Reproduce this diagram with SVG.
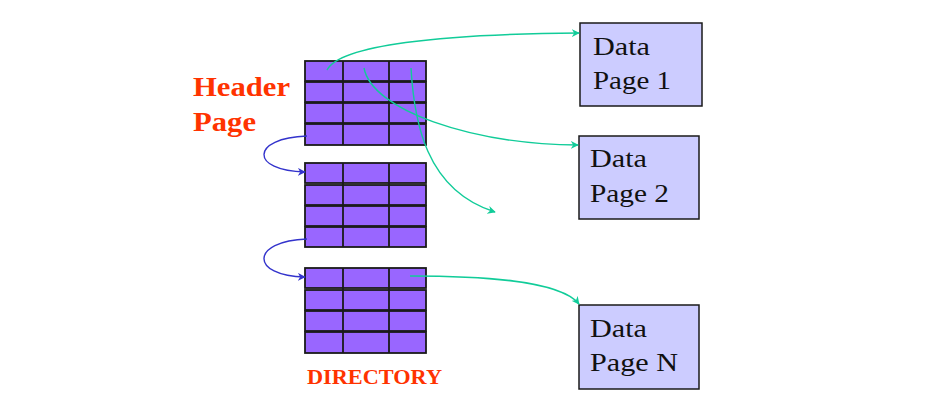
<svg xmlns="http://www.w3.org/2000/svg" width="932" height="411" viewBox="0 0 932 411">
<style>
.row{fill:#9966ff;stroke:#1a1a1a;stroke-width:1.8}
.col{stroke:#1a1a1a;stroke-width:1.8}
.box{fill:#ccccff;stroke:#1a1a1a;stroke-width:1.5}
.dt{font-family:"Liberation Serif",serif;font-size:26px;fill:#111}
.lbl{font-family:"Liberation Serif",serif;font-weight:bold;fill:#ff3300}
.g{fill:none;stroke:#11cc99;stroke-width:1.4}
.b{fill:none;stroke:#3333cc;stroke-width:1.4}
</style>
<defs>
<marker id="ag" viewBox="0 0 10 10" refX="9" refY="5" markerWidth="8" markerHeight="8" markerUnits="userSpaceOnUse" orient="auto"><path d="M0,0 L10,5 L0,10 L3,5 Z" fill="#11cc99"/></marker>
<marker id="ab" viewBox="0 0 10 10" refX="9" refY="5" markerWidth="8" markerHeight="8" markerUnits="userSpaceOnUse" orient="auto"><path d="M0,0 L10,5 L0,10 L3,5 Z" fill="#3333cc"/></marker>
</defs>
<rect width="932" height="411" fill="#fff"/>
<g id="table1">
<rect class="row" x="305" y="61" width="121" height="20"/>
<rect class="row" x="305" y="82" width="121" height="20"/>
<rect class="row" x="305" y="103" width="121" height="20"/>
<rect class="row" x="305" y="124" width="121" height="21"/>
<line class="col" x1="343" y1="61" x2="343" y2="145"/>
<line class="col" x1="389" y1="61" x2="389" y2="145"/>
</g>
<g id="table2">
<rect class="row" x="305" y="163" width="121" height="20"/>
<rect class="row" x="305" y="185" width="121" height="20"/>
<rect class="row" x="305" y="206" width="121" height="20"/>
<rect class="row" x="305" y="227" width="121" height="20"/>
<line class="col" x1="343" y1="163" x2="343" y2="247"/>
<line class="col" x1="389" y1="163" x2="389" y2="247"/>
</g>
<g id="table3">
<rect class="row" x="305" y="268" width="121" height="20"/>
<rect class="row" x="305" y="290" width="121" height="20"/>
<rect class="row" x="305" y="311" width="121" height="20"/>
<rect class="row" x="305" y="332" width="121" height="21"/>
<line class="col" x1="343" y1="268" x2="343" y2="353"/>
<line class="col" x1="389" y1="268" x2="389" y2="353"/>
</g>
<g id="header-label">
<text class="lbl" x="193" y="96" font-size="28" textLength="97" lengthAdjust="spacingAndGlyphs">Header</text>
<text class="lbl" x="193" y="131" font-size="28" textLength="63" lengthAdjust="spacingAndGlyphs">Page</text>
</g>
<g id="directory-label">
<text class="lbl" x="307" y="384" font-size="20" textLength="135" lengthAdjust="spacingAndGlyphs">DIRECTORY</text>
</g>
<g id="data1">
<rect class="box" x="580" y="23" width="122" height="83"/>
<text class="dt" x="593" y="55" textLength="57" lengthAdjust="spacingAndGlyphs">Data</text>
<text class="dt" x="593" y="89" textLength="78" lengthAdjust="spacingAndGlyphs">Page 1</text>
</g>
<g id="data2">
<rect class="box" x="579" y="136" width="120" height="83"/>
<text class="dt" x="590" y="167" textLength="57" lengthAdjust="spacingAndGlyphs">Data</text>
<text class="dt" x="590" y="202" textLength="79" lengthAdjust="spacingAndGlyphs">Page 2</text>
</g>
<g id="dataN">
<rect class="box" x="579" y="305" width="120" height="84"/>
<text class="dt" x="590" y="337" textLength="57" lengthAdjust="spacingAndGlyphs">Data</text>
<text class="dt" x="590" y="371" textLength="88" lengthAdjust="spacingAndGlyphs">Page N</text>
</g>
<g id="connectors">
<path class="g" d="M327,70 C340,45 440,34 579,33" marker-end="url(#ag)"/>
<path class="g" d="M364,68 C372,110 470,144 578,145" marker-end="url(#ag)"/>
<path class="g" d="M411,68 C414,120 425,190 495,212" marker-end="url(#ag)"/>
<path class="g" d="M410,276 C480,276 560,280 579,304" marker-end="url(#ag)"/>
<path class="b" d="M307,136 C250,138 250,171 305,172" marker-end="url(#ab)"/>
<path class="b" d="M307,239 C250,241 250,276 305,277" marker-end="url(#ab)"/>
</g>
</svg>
